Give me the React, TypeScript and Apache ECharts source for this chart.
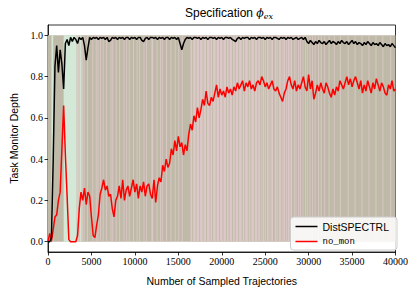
import React, { useEffect, useRef } from "react";
import * as echarts from "echarts";

const STEP = 200;
const BG_STEP = 100;

const distSpectrl = [
  0, 0, 0.02, 0.4, 0.85, 0.95, 0.82, 0.93, 0.86, 0.74,
  0.96, 0.98, 0.95, 0.99, 0.97, 0.99, 0.98, 0.96, 0.99, 0.98,
  0.99, 0.95, 0.88, 0.94, 0.99, 0.98, 0.99, 0.985, 0.99, 0.98,
  0.99, 0.985, 0.99, 0.98, 0.99, 0.97, 0.975, 0.99, 0.985, 0.99,
  0.98, 0.99, 0.985, 0.99, 0.98, 0.99, 0.99, 0.98, 0.99, 0.985,
  0.99, 0.98, 0.99, 0.99, 0.975, 0.97, 0.985, 0.99, 0.98, 0.99,
  0.99, 0.985, 0.99, 0.98, 0.99, 0.985, 0.99, 0.98, 0.99, 0.99,
  0.98, 0.99, 0.985, 0.99, 0.98, 0.99, 0.96, 0.93, 0.96, 0.98,
  0.99, 0.985, 0.99, 0.98, 0.99, 0.99, 0.985, 0.99, 0.98, 0.99,
  0.985, 0.99, 0.98, 0.99, 0.99, 0.985, 0.99, 0.98, 0.99, 0.985,
  0.99, 0.98, 0.99, 0.99, 0.985, 0.99, 0.98, 0.975, 0.97, 0.985,
  0.99, 0.98, 0.99, 0.985, 0.99, 0.99, 0.98, 0.99, 0.985, 0.99,
  0.98, 0.99, 0.99, 0.985, 0.99, 0.98, 0.99, 0.985, 0.99, 0.98,
  0.99, 0.99, 0.985, 0.98, 0.99, 0.985, 0.99, 0.98, 0.99, 0.985,
  0.99, 0.98, 0.985, 0.99, 0.98, 0.985, 0.99, 0.98, 0.99, 0.97,
  0.96, 0.975, 0.965, 0.955, 0.97, 0.96, 0.975, 0.965, 0.96, 0.97,
  0.955, 0.965, 0.975, 0.96, 0.97, 0.965, 0.955, 0.97, 0.96, 0.975,
  0.965, 0.96, 0.97, 0.955, 0.965, 0.975, 0.96, 0.97, 0.955, 0.965,
  0.96, 0.95, 0.965, 0.955, 0.97, 0.96, 0.95, 0.965, 0.955, 0.96,
  0.95, 0.965, 0.955, 0.945, 0.96, 0.95, 0.955, 0.945, 0.96, 0.95,
  0.94,
];

const noMon = [
  0, 0.04, 0, 0.06, 0.12, 0.13, 0.2, 0.24, 0.45, 0.66,
  0.42, 0.22, 0.01, 0, 0, 0, 0, 0.03, 0.16, 0.24,
  0.2, 0.26, 0.18, 0.24, 0.22, 0.12, 0.03, 0.02, 0.08, 0.13,
  0.23, 0.26, 0.3, 0.25, 0.27, 0.22, 0.23, 0.16, 0.12, 0.2,
  0.22, 0.27, 0.21, 0.3, 0.2, 0.25, 0.27, 0.22, 0.26, 0.3,
  0.24, 0.28, 0.21, 0.27, 0.24, 0.29, 0.22, 0.27, 0.28, 0.23,
  0.21, 0.3, 0.19, 0.27, 0.31, 0.29, 0.37, 0.34, 0.4, 0.36,
  0.38, 0.45, 0.42, 0.49, 0.44, 0.51, 0.46, 0.48, 0.42, 0.47,
  0.44, 0.52, 0.57, 0.54, 0.61, 0.58, 0.65, 0.6, 0.64, 0.69,
  0.66, 0.73, 0.67, 0.66, 0.7, 0.68, 0.72, 0.76, 0.7, 0.74,
  0.71, 0.73, 0.7, 0.75, 0.72, 0.74, 0.71, 0.75, 0.73, 0.77,
  0.74, 0.76, 0.78, 0.73, 0.77, 0.75, 0.78, 0.74, 0.76, 0.73,
  0.77, 0.78, 0.76, 0.8, 0.78, 0.75, 0.77, 0.74, 0.76, 0.78,
  0.74, 0.73, 0.75, 0.72, 0.7, 0.68, 0.72, 0.74, 0.78, 0.8,
  0.76, 0.74, 0.78, 0.73, 0.76, 0.74, 0.77, 0.8, 0.75, 0.73,
  0.81, 0.74, 0.78, 0.69, 0.72, 0.76, 0.73, 0.77, 0.74, 0.72,
  0.77, 0.75, 0.72, 0.7, 0.74, 0.71, 0.75, 0.73, 0.78, 0.76,
  0.74, 0.77, 0.8, 0.76, 0.79, 0.75, 0.78, 0.8, 0.77, 0.74,
  0.78, 0.72, 0.76, 0.73, 0.78, 0.75, 0.72, 0.77, 0.74, 0.79,
  0.76, 0.73, 0.77, 0.75, 0.72, 0.71, 0.76, 0.74, 0.78, 0.73,
  0.74,
];

// background state per 100-sample bin: 0 = olive, 1 = pink, 2 = green
const bgStates = [
  "00002200000000000022",
  "22222222222221211211",
  "01000100000100010100",
  "10010001000010100010",
  "00100001001001000010",
  "00100100001001000001",
  "10000100010100001000",
  "01000010001000100000",
  "00001101110111011101",
  "11011101101110111011",
  "10111011011101101110",
  "11101101110110111011",
  "10110101101011010110",
  "01101011010110101101",
  "10010100101001001010",
  "01001001000100100010",
  "00010000010000001000",
  "00000100000001000000",
  "01000000010000000100",
  "00000100000000100000",
].join("").split("").map(Number);

const bgColors = ["#bfbaa8", "#dcc8c7", "#d4e8d8"];

const xTicks = [0, 5000, 10000, 15000, 20000, 25000, 30000, 35000, 40000];
const yTicks = [0, 0.2, 0.4, 0.6, 0.8, 1.0];

export default function App() {
  const ref = useRef<HTMLDivElement>(null);
  useEffect(() => {
    const chart = echarts.init(ref.current!, null, { renderer: "svg" });

    const areas: any[] = [
      [
        { xAxis: 0, yAxis: 0, itemStyle: { color: bgColors[0], opacity: 1 } },
        { xAxis: bgStates.length * BG_STEP, yAxis: 1 },
      ],
    ];
    let start = 0;
    for (let i = 1; i <= bgStates.length; i++) {
      if (i === bgStates.length || bgStates[i] !== bgStates[start]) {
        if (bgStates[start] !== 0) {
          areas.push([
            { xAxis: start * BG_STEP, yAxis: 0, itemStyle: { color: bgColors[bgStates[start]], opacity: 1 } },
            { xAxis: i * BG_STEP, yAxis: 1 },
          ]);
        }
        start = i;
      }
    }

    const tickFont = { fontFamily: "Liberation Serif", fontSize: 10, color: "#000" };
    const nameFont = { fontFamily: "Liberation Sans", fontSize: 10.5, color: "#000" };

    chart.setOption({
      animation: false,
      title: {
        text: "{a|Specification }{b|ϕ}{c|ex}",
        left: 224,
        top: 0,
        textAlign: "center",
        textStyle: {
          fontWeight: "normal",
          rich: {
            a: { fontFamily: "Liberation Sans", fontWeight: "normal", fontSize: 12, color: "#000", lineHeight: 16 },
            b: { fontFamily: "DejaVu Serif", fontWeight: "normal", fontStyle: "italic", fontSize: 11, color: "#000", lineHeight: 16 },
            c: { fontFamily: "DejaVu Serif", fontWeight: "normal", fontStyle: "italic", fontSize: 8, color: "#000", padding: [6, 0, 0, 0], lineHeight: 16 },
          },
        },
      },
      grid: {
        left: 47, right: 9, top: 25, bottom: 38,
        show: true, borderColor: "#000", borderWidth: 0.8, backgroundColor: "#fff",
      },
      legend: {
        orient: "vertical",
        right: 14,
        bottom: 41,
        icon: "rect",
        itemWidth: 22,
        itemHeight: 1.5,
        itemGap: 5,
        padding: [4, 8, 4, 5],
        backgroundColor: "rgba(255,255,255,0.85)",
        borderColor: "#cccccc",
        borderWidth: 1,
        borderRadius: 3,
        data: [
          { name: "DistSPECTRL", textStyle: { fontFamily: "Liberation Sans", fontSize: 10.5, color: "#000" } },
          { name: "no_mon", textStyle: { fontFamily: "Liberation Mono", fontSize: 9, color: "#000" } },
        ],
      },
      xAxis: {
        type: "value",
        min: 0,
        max: 40000,
        interval: 5000,
        name: "Number of Sampled Trajectories",
        nameLocation: "middle",
        nameGap: 23,
        nameTextStyle: nameFont,
        axisLine: { show: true, onZero: false, lineStyle: { color: "#000", width: 0.8 } },
        axisTick: { show: true, inside: false, length: 3.5, lineStyle: { color: "#000", width: 0.8 } },
        axisLabel: { ...tickFont, margin: 4, formatter: (v: number) => String(v), customValues: xTicks },
        splitLine: { show: false },
      },
      yAxis: {
        type: "value",
        min: -0.05,
        max: 1.05,
        name: "Task Monitor Depth",
        nameLocation: "middle",
        nameGap: 29,
        nameTextStyle: nameFont,
        axisLine: { show: true, onZero: false, lineStyle: { color: "#000", width: 0.8 } },
        axisTick: { show: true, inside: false, length: 3.5, lineStyle: { color: "#000", width: 0.8 }, customValues: yTicks },
        axisLabel: { ...tickFont, margin: 5, formatter: (v: number) => v.toFixed(1), customValues: yTicks },
        splitLine: { show: false },
      },
      series: [
        {
          name: "background",
          type: "line",
          data: [],
          silent: true,
          markArea: { silent: true, data: areas },
          z: 1,
        },
        {
          name: "DistSPECTRL",
          type: "line",
          data: distSpectrl.map((v, i) => [i * STEP, v]),
          symbol: "none",
          lineStyle: { color: "#000", width: 1.5 },
          itemStyle: { color: "#000" },
          z: 3,
        },
        {
          name: "no_mon",
          type: "line",
          data: noMon.map((v, i) => [i * STEP, v]),
          symbol: "none",
          lineStyle: { color: "#ff0000", width: 1.5 },
          itemStyle: { color: "#ff0000" },
          z: 2,
        },
      ],
    });
    return () => chart.dispose();
  }, []);
  return <div ref={ref} style={{ width: 411, height: 291, position: "absolute", left: 0, top: 0 }} />;
}
